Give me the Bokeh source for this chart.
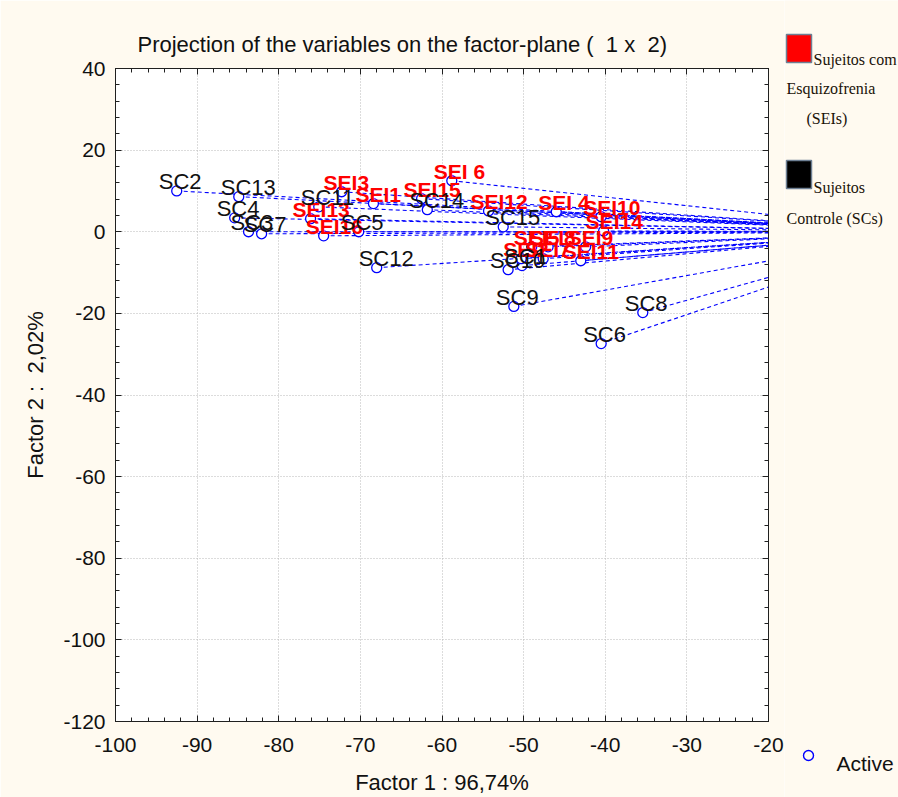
from bokeh.plotting import figure
from bokeh.layouts import row
from bokeh.models import (Range1d, LinearAxis, SingleIntervalTicker,
                          ColumnDataSource, CustomJSTickFormatter)
from bokeh.core.properties import value
from bokeh.embed import file_html
from bokeh.resources import INLINE

# ---------------- data ----------------
sc_names = ["SC1", "SC2", "SC3", "SC4", "SC5", "SC6", "SC7", "SC8", "SC9",
            "SC10", "SC11", "SC12", "SC13", "SC14", "SC15"]
sc_f1 = [-50.2, -92.5, -83.7, -85.4, -70.2, -40.5, -82.1, -35.4, -51.2,
         -51.9, -75.1, -68.0, -84.9, -61.8, -52.5]
sc_f2 = [-8.3, 10.0, 0.0, 3.4, 0.0, -27.4, -0.5, -19.8, -18.3,
         -9.3, 6.1, -8.8, 8.6, 5.4, 1.2]

sei_names = ["SEI1", "SEI2", "SEI3", "SEI 4", "SEI5", "SEI 6", "SEI7", "SEI8",
             "SEI9", "SEI10", "SEI11", "SEI12", "SEI13", "SEI14", "SEI15", "SEI16"]
sei_f1 = [-68.4, -50.3, -72.3, -46.0, -49.0, -58.8, -47.6, -47.0,
          -42.4, -40.5, -43.0, -54.3, -76.1, -40.2, -62.5, -74.5]
sei_f2 = [6.9, -6.6, 9.8, 4.9, -3.7, 12.5, -6.6, -3.7,
          -3.7, 3.7, -7.1, 5.1, 3.2, 0.2, 8.1, -1.0]

x_ticks_interval = 10
y_ticks_interval = 20

group_legend_labels = ["Sujeitos com", "Esquizofrenia", "(SEIs)", "Sujeitos", "Controle (SCs)"]
marker_legend_label = "Active"

# ---------------- layout geometry (page pixels) ----------------
FL, FR, FT, FB = 115, 768, 68, 722      # plot frame edges
X0, X1, Y0, Y1 = -100, -20, -120, 40
H = 797
MW = 784                                # main figure width
LW = 898 - MW                           # legend strip width
CREAM = "#FFFAF0"
BLUE = "#0000FF"
SANS = "Liberation Sans"
SERIF = "Liberation Serif"
TXT = "#111111"
NB = "\u00a0"

p = figure(width=MW, height=H, x_range=Range1d(X0, X1), y_range=Range1d(Y0, Y1),
           output_backend="svg", toolbar_location=None,
           min_border_left=FL, min_border_right=MW - FR,
           min_border_top=FT, min_border_bottom=H - FB,
           background_fill_color="white", border_fill_color=CREAM,
           outline_line_color="black", outline_line_width=1)

bax = p.below[0]
lax = p.left[0]
fmt = CustomJSTickFormatter(code="return tick.toFixed(0);")
xt = SingleIntervalTicker(interval=x_ticks_interval, num_minor_ticks=5)
yt = SingleIntervalTicker(interval=y_ticks_interval, num_minor_ticks=5)
bax.ticker = xt
lax.ticker = yt
bax.formatter = fmt
lax.formatter = fmt
p.xgrid.ticker = xt
p.ygrid.ticker = yt
for g in (p.xgrid, p.ygrid):
    g.grid_line_color = "#b8b8b8"
    g.grid_line_dash = "1 2"
    g.grid_line_width = 1

top_ax = LinearAxis(ticker=SingleIntervalTicker(interval=x_ticks_interval, num_minor_ticks=5))
right_ax = LinearAxis(ticker=SingleIntervalTicker(interval=y_ticks_interval, num_minor_ticks=5))
p.add_layout(top_ax, "above")
p.add_layout(right_ax, "right")

for ax in (bax, lax, top_ax, right_ax):
    ax.major_tick_in = 6
    ax.major_tick_out = 0
    ax.minor_tick_in = 4
    ax.minor_tick_out = 0
    ax.axis_line_color = "#202020"
    ax.major_tick_line_color = "#202020"
    ax.minor_tick_line_color = "#202020"
    ax.major_label_text_font = SANS
    ax.major_label_text_font_size = "21px"
    ax.major_label_text_color = TXT
for ax in (top_ax, right_ax):
    ax.major_label_text_color = None
    ax.major_label_text_font_size = "1px"
    ax.major_label_standoff = 0
bax.major_label_standoff = 16
lax.major_label_standoff = 10

bax.axis_label = "Factor 1 : 96,74%"
lax.axis_label = "Factor 2 : " + NB + "2,02%"
for ax in (bax, lax):
    ax.axis_label_text_font = SANS
    ax.axis_label_text_font_size = "22px"
    ax.axis_label_text_font_style = "normal"
    ax.axis_label_text_color = TXT
bax.axis_label_standoff = 15
lax.axis_label_standoff = 12

p.title.text = "Projection of the variables on the factor-plane ( " + NB + "1 x " + NB + "2)"
p.title.text_font = SANS
p.title.text_font_size = "22px"
p.title.text_font_style = "normal"
p.title.text_color = TXT
p.title.align = "left"
p.title.offset = 22
p.title.standoff = 23

# ---------------- marks ----------------
all_x = sc_f1 + sei_f1
all_y = sc_f2 + sei_f2
src = ColumnDataSource(dict(x=all_x, y=all_y))
p.segment(x0="x", y0="y", x1=0, y1=0, source=src, line_color=BLUE,
          line_width=1.1, line_dash="4 3")
p.scatter("x", "y", source=src, marker="circle", size=10,
          line_color=BLUE, line_width=1.3, fill_color="white")

sei_src = ColumnDataSource(dict(x=sei_f1, y=sei_f2, t=sei_names))
p.text("x", "y", text="t", source=sei_src, x_offset=-18, y_offset=-9,
       text_font=value(SANS), text_font_size="21px", text_font_style="bold",
       text_color="#FF0000", text_align="left", text_baseline="alphabetic")

sc_src = ColumnDataSource(dict(x=sc_f1, y=sc_f2, t=sc_names))
p.text("x", "y", text="t", source=sc_src, x_offset=-18, y_offset=-9,
       text_font=value(SANS), text_font_size="22px",
       text_color=TXT, text_align="left", text_baseline="alphabetic")

# ---------------- legend strip (page-pixel coordinates) ----------------
q = figure(width=LW, height=H, x_range=Range1d(MW, 898), y_range=Range1d(H, 0),
           output_backend="svg", toolbar_location=None,
           x_axis_type=None, y_axis_type=None,
           min_border=0, min_border_left=0, min_border_right=0,
           min_border_top=0, min_border_bottom=0,
           background_fill_color=CREAM, border_fill_color=CREAM,
           outline_line_color=None)
q.grid.visible = False

for fig in (p, q):
    try:
        fig.frame_align = False
    except Exception:
        pass

q.quad(left=[786, 786], right=[811, 811], top=[34, 160], bottom=[62, 188],
       fill_color=["#FF0000", "#000000"], line_color="#6d7f93", line_width=1.5)
q.text(x=[813, 786, 806, 813, 786], y=[59, 88, 118, 187, 218],
       text=group_legend_labels, text_font=value(SERIF), text_font_size="16px",
       text_color="#1a1208", text_align="left", text_baseline="alphabetic")
q.scatter(x=[808], y=[755], marker="circle", size=10, line_color=BLUE,
          line_width=1.4, fill_color=None)
q.text(x=[836], y=[763], text=[marker_legend_label], text_font=value(SANS),
       text_font_size="21px", text_color=TXT, text_align="left",
       text_baseline="alphabetic")

layout = row(p, q)
open("out.html", "w").write(file_html(layout, INLINE))
